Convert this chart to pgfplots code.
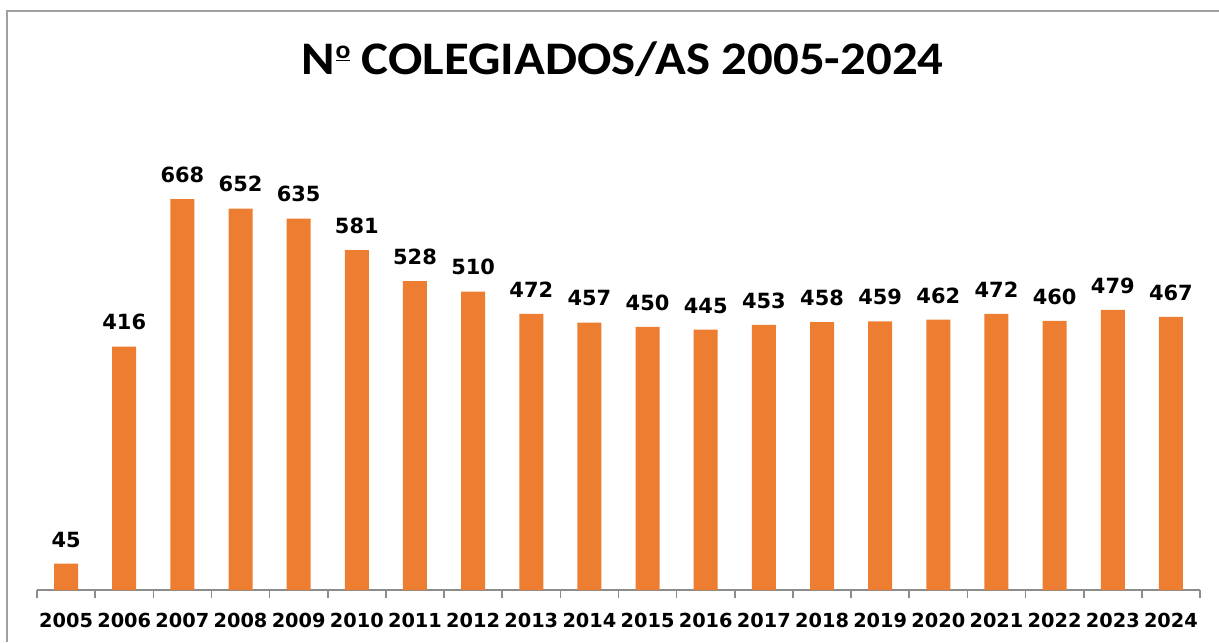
\documentclass[border=0pt]{standalone}
\usepackage{pgfplots}
\pgfplotsset{compat=1.18}
\usepackage{fontspec}
\setmainfont{DejaVu Sans}
\newfontfamily\titlefont{Carlito}
\definecolor{barorange}{HTML}{ED7D31}
\definecolor{framegray}{HTML}{A0A0A0}
\definecolor{axgray}{HTML}{8C8C8C}
\begin{document}
\begin{tikzpicture}
\useasboundingbox (0,0) rectangle (914.25pt,481.5pt);
\draw[framegray, line width=1.5pt] (5.25pt,0pt) -- (5.25pt,473.25pt) -- (914.25pt,473.25pt);
\node[anchor=base, font=\titlefont\bfseries\fontsize{35}{40}\selectfont] at (466.875pt,425.25pt) {\scalebox{1.09}[1]{N\kern0.5pt\raisebox{0.36em}{\fontsize{19}{20}\selectfont\underline{o}} COLEGIADOS/AS 2005-2024}};
\begin{axis}[
  at={(27.75pt,39pt)}, anchor=south west,
  scale only axis, width=872.25pt, height=351pt,
  xmin=-0.5, xmax=19.5, ymin=0, ymax=800,
  axis x line=bottom, axis y line=none,
  x axis line style={-, draw=axgray, line width=1.2pt},
  xtick={0,...,19},
  xticklabels={2005,2006,2007,2008,2009,2010,2011,2012,2013,2014,2015,2016,2017,2018,2019,2020,2021,2022,2023,2024},
  major tick length=0pt,
  minor xtick={-0.5,0.5,...,19.5},
  minor tick length=6pt,
  tick align=outside,
  minor tick style={draw=axgray, line width=1.2pt},
  xticklabel style={font=\bfseries\fontsize{14.5}{16}\selectfont, inner sep=0pt, yshift=-17pt},
  /pgf/number format/assume math mode=true,
  ybar, bar width=18pt,
  nodes near coords,
  every node near coord/.append style={font=\bfseries\fontsize{15.7}{18}\selectfont, anchor=base, inner sep=0pt, yshift=12.5pt},
  clip=false,
]
\addplot[fill=barorange, draw=none, bar shift=0pt] coordinates {
(0,45) (1,416) (2,668) (3,652) (4,635) (5,581) (6,528) (7,510) (8,472) (9,457)
(10,450) (11,445) (12,453) (13,458) (14,459) (15,462) (16,472) (17,460) (18,479) (19,467)};
\end{axis}
\end{tikzpicture}
\end{document}
